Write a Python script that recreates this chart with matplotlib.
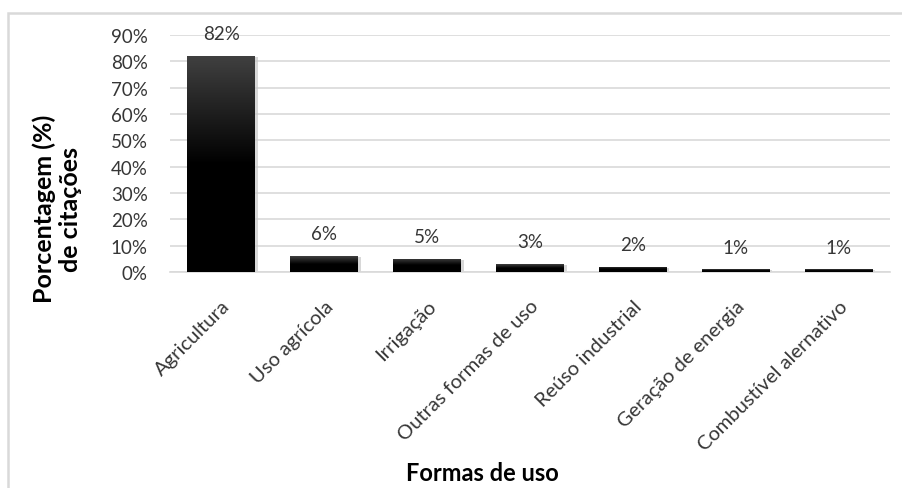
import numpy as np
from matplotlib import pyplot as plt
from matplotlib.colors import LinearSegmentedColormap
from matplotlib.patches import Rectangle
from matplotlib.ticker import PercentFormatter

categories = ["Agricultura", "Uso agrícola", "Irrigação", "Outras formas de uso",
              "Reúso industrial", "Geração de energia", "Combustível alernativo"]
percent = [82, 6, 5, 3, 2, 1, 1]

plt.rcParams['font.family'] = ['Lato', 'DejaVu Sans']
TEXT_GREY = '#363636'

fig = plt.figure(figsize=(9.02, 4.89), dpi=100)
ax = fig.add_axes([170/902, 1 - 273/489, 720/902, 237/489])

# light frame around the chart area (cut off at right and bottom)
fig.patches.append(Rectangle((8/902, -0.05), 1.0, 1 - 14/489 + 0.05,
                             transform=fig.transFigure, fill=False,
                             edgecolor='#d9d9d9', linewidth=1.8))

x = np.arange(len(categories))
bars = ax.bar(x, percent, width=0.66, color='none', edgecolor='none', zorder=3)

# vertical gradient: dark grey on top fading to black halfway down
bar_cmap = LinearSegmentedColormap.from_list('bar', ['#000000', '#000000', '#404040'])
grad = np.linspace(0, 1, 256).reshape(-1, 1)
for b in bars:
    x0, y0 = b.get_x(), b.get_y()
    w, h = b.get_width(), b.get_height()
    # soft shadow
    ax.add_patch(Rectangle((x0 + 0.025, y0 - 0.3), w, h, facecolor='#c8c8c8',
                           edgecolor='none', alpha=0.7, zorder=2))
    img = ax.imshow(grad, cmap=bar_cmap, vmin=0, vmax=1, aspect='auto',
                    extent=(x0, x0 + w, y0, y0 + h), origin='lower', zorder=3)
    img.set_clip_path(b)

for xi, v in zip(x, percent):
    ax.annotate(f"{v}%", (xi, v), xytext=(0, 16), textcoords='offset points',
                ha='center', va='center', fontsize=13.5, color=TEXT_GREY)

ax.set_xlim(-0.5, len(categories) - 0.5)
ax.set_ylim(0, 90)
ax.set_yticks(np.arange(0, 91, 10))
ax.yaxis.set_major_formatter(PercentFormatter(decimals=0))
ax.set_xticks(x)
ax.set_xticklabels(categories, rotation=45, ha='right', rotation_mode='anchor')
ax.tick_params(axis='y', length=0, pad=16, labelsize=13.5, labelcolor=TEXT_GREY)
ax.tick_params(axis='x', length=0, pad=18, labelsize=14.5, labelcolor=TEXT_GREY)

ax.grid(axis='y', color='#d9d9d9', linewidth=1.2, zorder=0)
ax.set_axisbelow(True)
for side in ['top', 'right', 'left']:
    ax.spines[side].set_visible(False)
ax.spines['bottom'].set_color('#d9d9d9')
ax.spines['bottom'].set_linewidth(1.2)

fig.text(57/902, 1 - 209/489, "Porcentagem (%)\nde citações", ha='center', va='center',
         rotation=90, fontsize=18, fontweight='bold', color='black', linespacing=1.15)
fig.text(482/902, 1 - 474/489, "Formas de uso", ha='center', va='center',
         fontsize=17, fontweight='bold', color='black')

fig.savefig("out.png", dpi=100, facecolor='white')
